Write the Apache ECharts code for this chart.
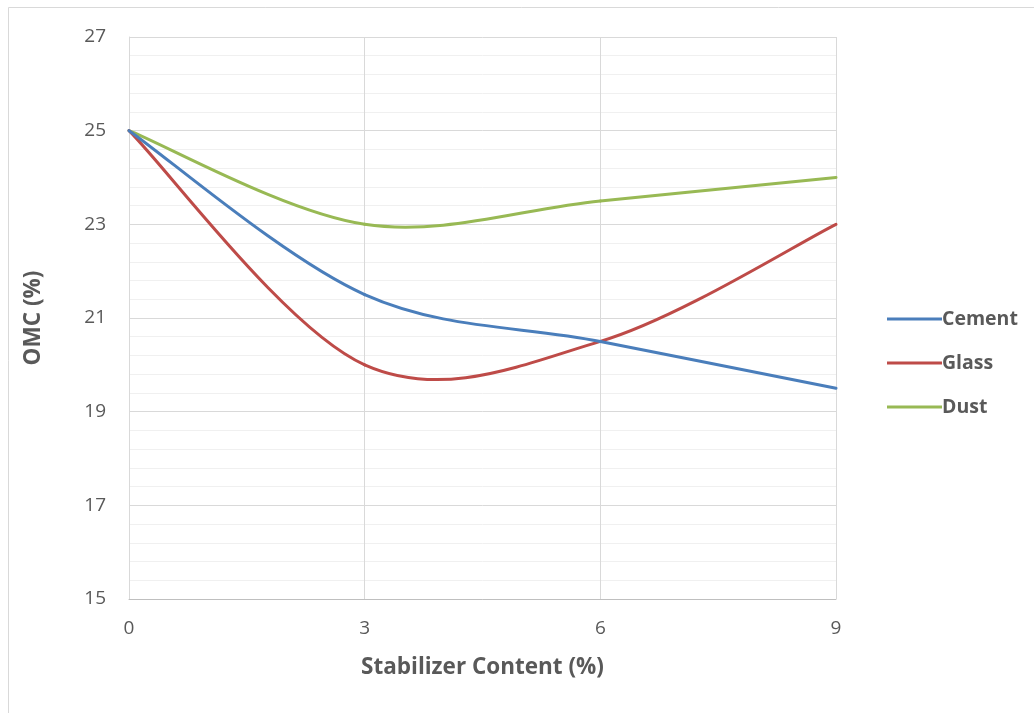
<!DOCTYPE html>
<html>
<head>
<meta charset="utf-8">
<script src="https://cdn.jsdelivr.net/npm/echarts@6/dist/echarts.min.js"></script>
<style>
  html, body { margin: 0; padding: 0; background: #fff; }
  #chart { width: 1034px; height: 713px; }
</style>
</head>
<body>
<div id="chart"></div>
<script>
// Stabilizer content (%) on the x axis
const stabilizer = [0, 3, 6, 9];
// Optimum moisture content (%) for each stabilizer
const cement = [25, 21.5, 20.5, 19.5];
const glass = [25, 20, 20.5, 23];
const dust = [25, 23, 23.5, 24];

const seriesNames = ['Cement', 'Glass', 'Dust'];
const seriesColors = ['#4a7ebb', '#be4b48', '#98b954'];
const seriesValues = [cement, glass, dust];

const FONT = '"Open Sans", "Liberation Sans", sans-serif';
const TEXT = '#595959';
const GRID = '#d9d9d9';

const chart = echarts.init(document.getElementById('chart'), null, { renderer: 'canvas' });

// Smoothed curve through the points: cubic Bezier segments whose control
// points follow the Catmull-Rom rule (tangent = (next - prev) / 6).
function smoothSegment(values) {
  return function (params, api) {
    const i = params.dataIndex;
    const n = stabilizer.length;
    if (i >= n - 1) return null;
    const pt = k => {
      const j = Math.max(0, Math.min(n - 1, k));
      return api.coord([stabilizer[j], values[j]]);
    };
    const p0 = pt(i - 1), p1 = pt(i), p2 = pt(i + 1), p3 = pt(i + 2);
    return {
      type: 'bezierCurve',
      shape: {
        x1: p1[0], y1: p1[1],
        cpx1: p1[0] + (p2[0] - p0[0]) / 6, cpy1: p1[1] + (p2[1] - p0[1]) / 6,
        cpx2: p2[0] - (p3[0] - p1[0]) / 6, cpy2: p2[1] - (p3[1] - p1[1]) / 6,
        x2: p2[0], y2: p2[1]
      },
      style: { fill: null, stroke: api.visual('color'), lineWidth: 3, lineCap: 'round' }
    };
  };
}

const option = {
  animation: false,
  backgroundColor: '#ffffff',
  graphic: [{
    type: 'rect',
    shape: { x: 8.5, y: 7.5, width: 1040, height: 720 },
    style: { fill: 'none', stroke: GRID, lineWidth: 1 },
    silent: true
  }],
  grid: { left: 129, right: 198, top: 37, bottom: 114, containLabel: false },
  legend: {
    orient: 'vertical',
    left: 882,
    top: 304,
    itemWidth: 55,
    itemHeight: 3,
    itemGap: 24,
    icon: 'rect',
    textStyle: { fontFamily: FONT, fontSize: 19.5, fontWeight: 'bold', color: TEXT, padding: [0, 0, 0, -5] },
    data: seriesNames.map((name, i) => ({ name: name, itemStyle: { color: seriesColors[i] } }))
  },
  xAxis: {
    type: 'value',
    min: 0, max: 9, interval: 3,
    name: 'Stabilizer Content (%)',
    nameLocation: 'middle',
    nameGap: 57,
    nameTextStyle: { fontFamily: FONT, fontSize: 22.5, fontWeight: 'bold', color: TEXT },
    axisLine: { show: true, lineStyle: { color: '#bfbfbf', width: 1 } },
    axisTick: { show: false },
    axisLabel: { fontFamily: FONT, fontSize: 19, color: TEXT, margin: 20 },
    splitLine: { show: true, lineStyle: { color: GRID, width: 1 } }
  },
  yAxis: {
    type: 'value',
    min: 15, max: 27, interval: 2,
    name: 'OMC (%)',
    nameLocation: 'middle',
    nameRotate: 90,
    nameGap: 84,
    nameTextStyle: { fontFamily: FONT, fontSize: 22.5, fontWeight: 'bold', color: TEXT },
    axisLine: { show: true, lineStyle: { color: GRID, width: 1 } },
    axisTick: { show: false },
    axisLabel: { fontFamily: FONT, fontSize: 19, color: TEXT, margin: 23 },
    splitLine: { show: true, lineStyle: { color: GRID, width: 1 } },
    minorTick: { show: false, splitNumber: 5 },
    minorSplitLine: { show: true, lineStyle: { color: '#f0f0f0', width: 1 } }
  },
  series: seriesNames.map((name, i) => ({
    name: name,
    type: 'custom',
    renderItem: smoothSegment(seriesValues[i]),
    data: stabilizer.map((x, k) => [x, seriesValues[i][k]]),
    encode: { x: 0, y: 1 },
    itemStyle: { color: seriesColors[i] },
    clip: false,
    z: 3 + (2 - i)
  }))
};

chart.setOption(option);
// right border of the plot at x = 9
chart.setOption({
  graphic: option.graphic.concat([{
    type: 'line',
    shape: {
      x1: chart.convertToPixel({ xAxisIndex: 0 }, 9) + 0.5,
      y1: chart.convertToPixel({ yAxisIndex: 0 }, 27),
      x2: chart.convertToPixel({ xAxisIndex: 0 }, 9) + 0.5,
      y2: chart.convertToPixel({ yAxisIndex: 0 }, 15)
    },
    style: { stroke: GRID, lineWidth: 1 },
    silent: true
  }])
});
</script>
</body>
</html>
